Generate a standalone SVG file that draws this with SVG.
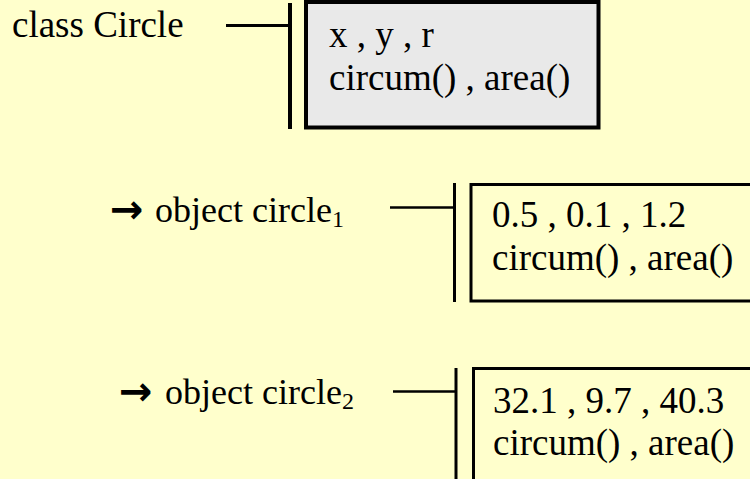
<svg xmlns="http://www.w3.org/2000/svg" width="750" height="479" viewBox="0 0 750 479">
<style>
.t{font-family:'Liberation Serif','Times New Roman',serif;font-size:37px;fill:#000}
.lb{font-size:36px}
.sub{font-size:24px}
.arr{font-family:'DejaVu Sans',sans-serif;font-weight:bold;font-size:40px;fill:#000}
.ln{stroke:#000;fill:none}
</style>
<rect x="0" y="0" width="750" height="479" fill="#ffffcc"/>
<g id="connectors">
<line class="ln" x1="226" y1="25.5" x2="290" y2="25.5" stroke-width="3"/>
<line class="ln" x1="290" y1="3" x2="290" y2="129" stroke-width="4"/>
<line class="ln" x1="390" y1="207.5" x2="455" y2="207.5" stroke-width="2.5"/>
<line class="ln" x1="454.5" y1="183" x2="454.5" y2="302" stroke-width="3"/>
<line class="ln" x1="393" y1="391.5" x2="456" y2="391.5" stroke-width="2.5"/>
<line class="ln" x1="456" y1="368" x2="456" y2="479" stroke-width="3"/>
</g>
<g id="class-label">
<text class="t" x="12" y="37">class Circle</text>
</g>
<g id="class-box">
<rect x="306" y="2" width="292.5" height="125.5" fill="#e9e9e9" stroke="#000" stroke-width="4"/>
<text class="t" x="329" y="47">x , y , r</text>
<text class="t" x="329" y="90">circum() , area()</text>
</g>
<g id="obj1-label">
<text class="arr" x="110" y="223">→</text>
<text class="t lb" x="155" y="221.5">object circle<tspan class="sub" dy="5">1</tspan></text>
</g>
<g id="obj1-box">
<rect x="471" y="184.5" width="290" height="116.5" fill="#ffffcc" stroke="#000" stroke-width="3"/>
<text class="t" x="492" y="227">0.5 , 0.1 , 1.2</text>
<text class="t" x="492" y="270">circum() , area()</text>
</g>
<g id="obj2-label">
<text class="arr" x="119" y="405">→</text>
<text class="t lb" x="165" y="403.5">object circle<tspan class="sub" dy="5">2</tspan></text>
</g>
<g id="obj2-box">
<rect x="473.5" y="368.5" width="290" height="130" fill="#ffffcc" stroke="#000" stroke-width="3"/>
<text class="t" x="493" y="412.5">32.1 , 9.7 , 40.3</text>
<text class="t" x="493" y="455">circum() , area()</text>
</g>
</svg>
